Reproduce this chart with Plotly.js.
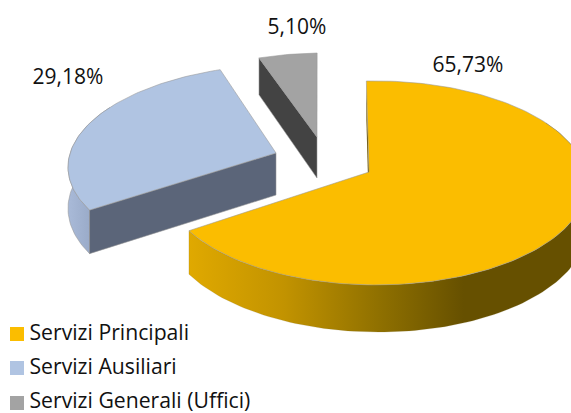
<!DOCTYPE html>
<html>
<head>
<meta charset="utf-8">
<script src="https://cdn.plot.ly/plotly-3.0.1.min.js"></script>
<style>html,body{margin:0;padding:0;background:#fff}</style>
</head>
<body>
<div id="chart" style="width:571px;height:413px"></div>
<script>
var categories = ["Servizi Principali", "Servizi Ausiliari", "Servizi Generali (Uffici)"];
var shares = [65.73, 29.18, 5.10];
var topColors = ["#FBBD00", "#B0C4E2", "#A3A3A3"];
var cutColors = ["#6B5400", "#5B6579", "#434343"];

// Projection of the tilted, exploded pie
var START_DEG = -0.8, K = 0.107, M = -0.03;
var tipX = [369, 276, 317], tipY = [172, 153, 137];
var radX = [210, 212, 205], radY = [100.8, 98, 93], depth = [42, 42, 41];
var shear = [0, 8, 3];

function project(i, deg, drop) {
  var t = deg * Math.PI / 180, s = Math.sin(t), c = Math.cos(t);
  var d = 1 + K * c + M * s;
  return [tipX[i] + (radX[i] * s + shear[i] * c) / d, tipY[i] - radY[i] * c / d + drop * (1 / d)];
}
function arc(i, a, b, drop) {
  var pts = [], n = Math.max(2, Math.ceil(Math.abs(b - a) / 1.5));
  for (var k = 0; k <= n; k++) pts.push(project(i, a + (b - a) * k / n, drop));
  return pts;
}
function poly(pts, opts) {
  var tr = {
    type: "scatter", mode: "lines", fill: "toself", hoverinfo: "skip", showlegend: false,
    x: pts.map(function (p) { return p[0]; }).concat([pts[0][0]]),
    y: pts.map(function (p) { return p[1]; }).concat([pts[0][1]]),
    line: {color: opts.line || "rgba(150,150,150,0.7)", width: opts.w === undefined ? 0.8 : opts.w}
  };
  if (opts.gradient) {
    tr.fillgradient = opts.gradient;
  } else {
    tr.fillcolor = opts.fill;
  }
  return tr;
}

var total = shares.reduce(function (a, b) { return a + b; }, 0);
var angles = [START_DEG];
shares.forEach(function (v, i) { angles.push(angles[i] + v / total * 360); });

var yellowWall = {
  type: "horizontal", start: 188, stop: 571,
  colorscale: [[0, "#E0A900"], [0.25, "#C29300"], [0.5, "#8F7000"], [0.72, "#665000"], [1, "#665000"]]
};
var blueWall = {
  type: "horizontal", start: 68, stop: 100,
  colorscale: [[0, "#A9BAD8"], [1, "#93A4C2"]]
};

var traces = [];
// Principal slice
var a0 = angles[0], a1 = angles[1];
traces.push(poly(arc(0, 60, a1, 0).concat(arc(0, a1, 60, depth[0])), {gradient: yellowWall, line: "rgba(130,110,40,0.35)", w: 0.5}));
traces.push(poly([project(0, a0, 0), project(0, a0, depth[0]), [tipX[0], tipY[0] + depth[0]], [tipX[0], tipY[0]]], {fill: cutColors[0], w: 0}));
traces.push(poly(arc(0, a0, a1, 0).concat([[tipX[0], tipY[0]]]), {fill: topColors[0]}));
// Auxiliary slice
var b0 = angles[1], b1 = angles[2];
traces.push(poly(arc(1, b0, 300, 0).concat(arc(1, 300, b0, depth[1])), {gradient: blueWall}));
traces.push(poly([project(1, b0, 0), project(1, b0, depth[1]), [tipX[1], tipY[1] + depth[1]], [tipX[1], tipY[1]]], {fill: cutColors[1]}));
traces.push(poly(arc(1, b0, b1, 0).concat([[tipX[1], tipY[1]]]), {fill: topColors[1]}));
// General slice
var c0 = angles[2], c1 = angles[3];
traces.push(poly([project(2, c0, 0), project(2, c0, depth[2]), [tipX[2], tipY[2] + depth[2]], [tipX[2], tipY[2]]], {fill: cutColors[2]}));
traces.push(poly(arc(2, c0, c1, 0).concat([[tipX[2], tipY[2]]]), {fill: topColors[2]}));

// Value labels
var labelX = [468, 68, 297], labelY = [67, 79, 29];
traces.push({
  type: "scatter", mode: "text", hoverinfo: "skip", showlegend: false,
  x: labelX, y: labelY,
  text: shares.map(function (v) { return v.toFixed(2).replace(".", ",") + "%"; }),
  textposition: "middle center",
  textfont: {family: "'Open Sans', sans-serif", size: 21, color: "#111"}
});

// Key
var keyX = [17, 17, 17], keyY = [334, 368, 403], keyTextX = [29.5, 29.5, 29.5], keyTextY = [335, 369, 403];
traces.push({
  type: "scatter", mode: "markers", hoverinfo: "skip", showlegend: false,
  x: keyX, y: keyY,
  marker: {symbol: "square", size: 14, color: topColors, line: {width: 0}}
});
traces.push({
  type: "scatter", mode: "text", hoverinfo: "skip", showlegend: false,
  x: keyTextX, y: keyTextY, text: categories, textposition: "middle right",
  textfont: {family: "'Open Sans', sans-serif", size: 21.2, color: "#111"}
});

var hidden = {visible: false, fixedrange: true};
var layout = {
  width: 571, height: 413, margin: {l: 0, r: 0, t: 0, b: 0},
  paper_bgcolor: "#fff", plot_bgcolor: "#fff", showlegend: false,
  xaxis: Object.assign({range: [0, 571]}, hidden),
  yaxis: Object.assign({range: [413, 0]}, hidden)
};
Plotly.newPlot("chart", traces, layout, {displayModeBar: false, staticPlot: true});
</script>
</body>
</html>
